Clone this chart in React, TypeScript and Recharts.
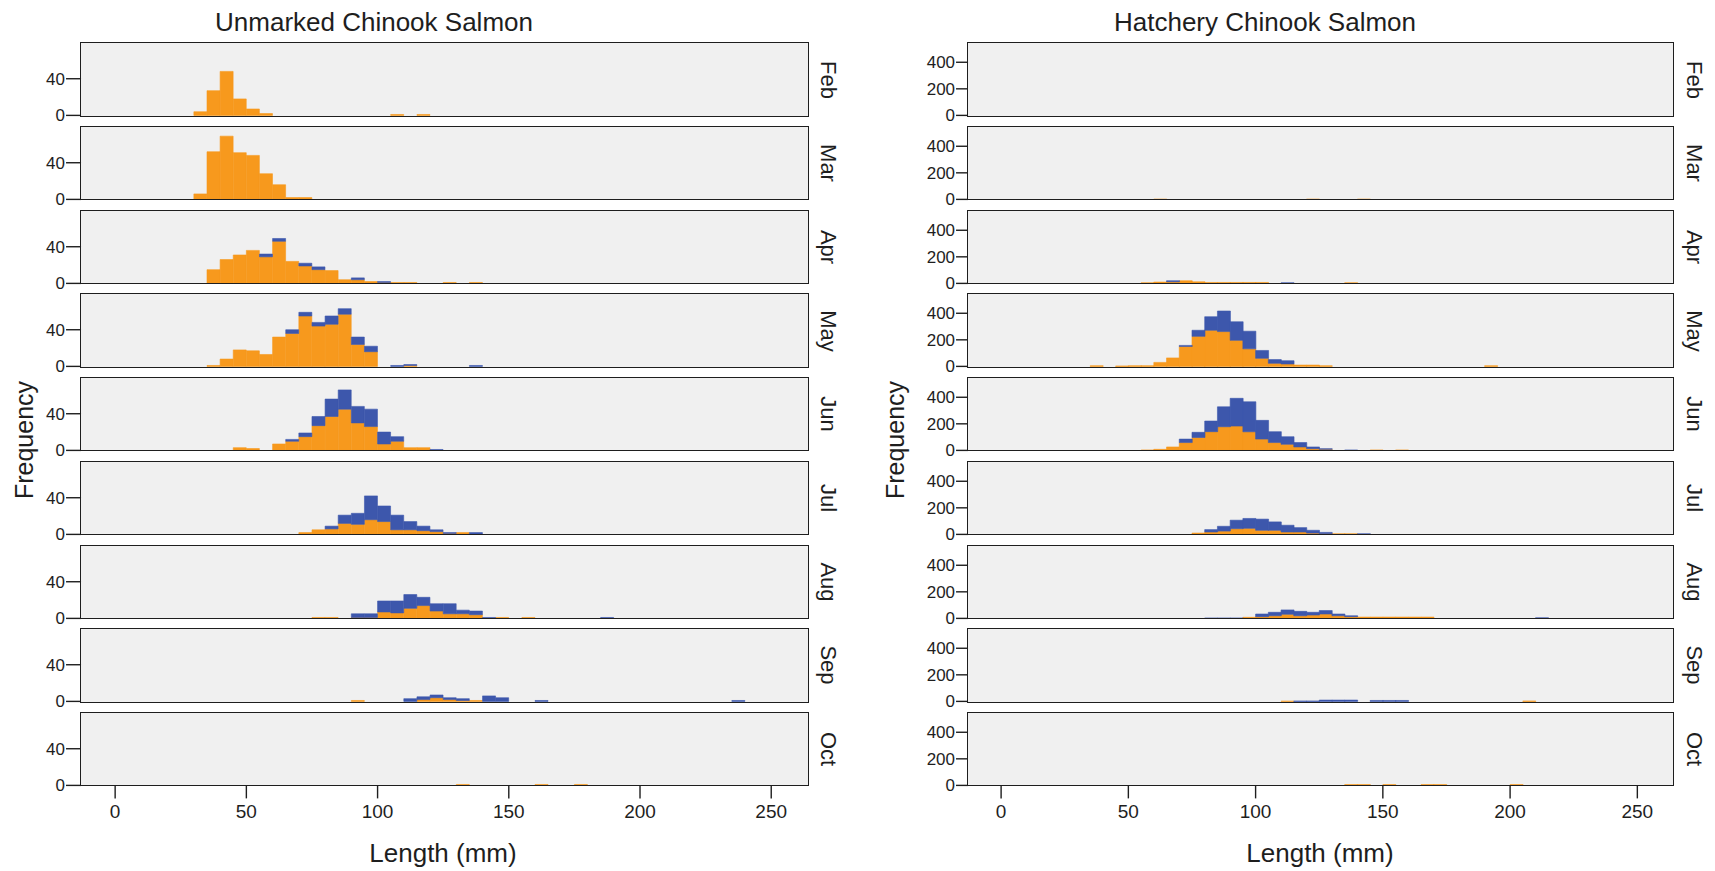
import { BarChart, Bar, XAxis, YAxis } from "recharts";

// ==================== DATA ====================

const MONTHS = ["Feb", "Mar", "Apr", "May", "Jun", "Jul", "Aug", "Sep", "Oct"];

// 5 mm length bins (lower edge of each bin)
const BIN_STARTS = [
  30, 35, 40, 45, 50, 55, 60, 65, 70, 75, 80, 85, 90, 95, 100, 105, 110, 115,
  120, 125, 130, 135, 140, 145, 150, 155, 160, 165, 170, 175, 180, 185, 190,
  195, 200, 205, 210, 215, 220, 225, 230, 235,
];

const LENGTH_TICKS = [0, 50, 100, 150, 200, 250];
const UNMARKED_TICKS = [0, 40];
const HATCHERY_TICKS = [0, 200, 400];

type Counts = Record<number, number>;

// Unmarked Chinook: orange (bottom of stack) per month, bin start -> count
const unmarkedOrange: Counts[] = [
  { 30: 4, 35: 27, 40: 48, 45: 18, 50: 7, 55: 2, 105: 1, 115: 1 },
  { 30: 6, 35: 52, 40: 69, 45: 51, 50: 48, 55: 28, 60: 16, 65: 2, 70: 2 },
  { 35: 15, 40: 26, 45: 31, 50: 36, 55: 29, 60: 46, 65: 24, 70: 19, 75: 15, 80: 14, 85: 4, 90: 4, 95: 2, 100: 1, 105: 1, 110: 1, 125: 1, 135: 1 },
  { 35: 1, 40: 8, 45: 18, 50: 17, 55: 13, 60: 32, 65: 36, 70: 55, 75: 44, 80: 46, 85: 57, 90: 24, 95: 16, 110: 1 },
  { 45: 3, 50: 2, 60: 7, 65: 10, 70: 15, 75: 27, 80: 37, 85: 45, 90: 30, 95: 26, 100: 7, 105: 10, 110: 3, 115: 3 },
  { 70: 2, 75: 5, 80: 6, 85: 12, 90: 11, 95: 16, 100: 14, 105: 5, 110: 5, 115: 4, 120: 3, 125: 1, 130: 2 },
  { 75: 1, 80: 1, 90: 1, 95: 1, 100: 7, 105: 6, 110: 11, 115: 14, 120: 8, 125: 5, 130: 5, 135: 4, 145: 1, 155: 1 },
  { 90: 1, 115: 2, 120: 4, 125: 2, 130: 1, 135: 1 },
  { 130: 1, 160: 1, 175: 1 },
];

// Unmarked Chinook: blue (top of stack)
const unmarkedBlue: Counts[] = [
  {},
  {},
  { 55: 3, 60: 3, 70: 3, 75: 3, 90: 2, 100: 1 },
  { 65: 4, 70: 4, 75: 4, 80: 9, 85: 6, 90: 8, 95: 6, 105: 1, 110: 1, 135: 1 },
  { 65: 2, 70: 4, 75: 10, 80: 19, 85: 21, 90: 18, 95: 19, 100: 13, 105: 5, 120: 1 },
  { 80: 3, 85: 9, 90: 12, 95: 26, 100: 17, 105: 16, 110: 9, 115: 5, 120: 2, 125: 1, 135: 2 },
  { 90: 4, 95: 4, 100: 12, 105: 13, 110: 15, 115: 9, 120: 8, 125: 11, 130: 4, 135: 4, 140: 1, 185: 1 },
  { 110: 3, 115: 3, 120: 3, 125: 2, 130: 2, 140: 6, 145: 4, 160: 1, 235: 1 },
  {},
];

// Hatchery Chinook: orange
const hatcheryOrange: Counts[] = [
  {},
  { 60: 2, 120: 2, 140: 2 },
  { 55: 5, 60: 10, 65: 12, 70: 20, 75: 12, 80: 7, 85: 7, 90: 7, 95: 7, 100: 7, 135: 5 },
  { 35: 5, 45: 3, 50: 5, 55: 5, 60: 30, 65: 64, 70: 150, 75: 226, 80: 272, 85: 262, 90: 196, 95: 132, 100: 61, 105: 23, 110: 18, 115: 10, 120: 10, 125: 5, 190: 5 },
  { 55: 3, 60: 8, 65: 26, 70: 59, 75: 97, 80: 141, 85: 178, 90: 183, 95: 140, 100: 85, 105: 59, 110: 46, 115: 26, 120: 13, 125: 8, 145: 3, 155: 3 },
  { 75: 10, 80: 18, 85: 25, 90: 43, 95: 46, 100: 31, 105: 31, 110: 18, 115: 18, 120: 10, 125: 5, 130: 5, 135: 5 },
  { 95: 8, 100: 13, 105: 20, 110: 31, 115: 20, 120: 25, 125: 33, 130: 20, 135: 13, 140: 10, 145: 10, 150: 10, 155: 10, 160: 10, 165: 10 },
  { 110: 2, 205: 3 },
  { 135: 6, 140: 6, 150: 6, 165: 6, 170: 6, 200: 6 },
];

// Hatchery Chinook: blue
const hatcheryBlue: Counts[] = [
  {},
  {},
  { 65: 8, 110: 5 },
  { 70: 8, 75: 46, 80: 102, 85: 155, 90: 140, 95: 133, 100: 59, 105: 28, 110: 25 },
  { 70: 26, 75: 39, 80: 80, 85: 150, 90: 209, 95: 226, 100: 141, 105: 82, 110: 57, 115: 33, 120: 13, 125: 5, 135: 3 },
  { 80: 18, 85: 36, 90: 64, 95: 74, 100: 84, 105: 63, 110: 51, 115: 33, 120: 21, 125: 10, 140: 5 },
  { 80: 3, 85: 3, 90: 3, 100: 20, 105: 26, 110: 33, 115: 33, 120: 21, 125: 26, 130: 13, 135: 7, 210: 5 },
  { 115: 3, 120: 3, 125: 10, 130: 10, 135: 10, 145: 7, 150: 7, 155: 7 },
  {},
];

// ==================== STYLE ====================

const ORANGE = "#F7991D";
const BLUE = "#3D57AC";
const PANEL_BG = "#F0F0F0";
const INK = "#1e1e1e";
const FONT = '"Liberation Sans", Arial, sans-serif';

const X_DOMAIN: [number, number] = [-13, 264];
const PANEL_TOP = 43.3;
const PANEL_PITCH = 83.7;
const PANEL_H = 72.4;
const AXIS_W = 70;
const BOTTOM_PAD = 12;

// ==================== PANEL ====================

interface PanelProps {
  orange: Counts;
  blue: Counts;
  top: number;
  plotLeft: number;
  plotRight: number;
  yMax: number;
  yTicks: number[];
  tickLen: number;
  showX: boolean;
}

const Panel = ({
  orange,
  blue,
  top,
  plotLeft,
  plotRight,
  yMax,
  yTicks,
  tickLen,
  showX,
}: PanelProps) => {
  const data = BIN_STARTS.map((s) => ({
    mid: s + 2.5,
    orange: orange[s] ?? 0,
    blue: blue[s] ?? 0,
  }));
  const plotW = plotRight - plotLeft;
  const width = plotW + AXIS_W + 2;
  const height = PANEL_H + 2 + (showX ? 46 : BOTTOM_PAD);

  return (
    <div style={{ position: "absolute", left: plotLeft - AXIS_W, top: top - 2 }}>
      {/* panel background */}
      <div
        style={{
          position: "absolute",
          left: AXIS_W,
          top: 2,
          width: plotW,
          height: PANEL_H,
          background: PANEL_BG,
        }}
      />
      <div style={{ position: "relative" }}>
        <BarChart
          width={width}
          height={height}
          data={data}
          margin={{ top: 2, right: 2, bottom: showX ? 0 : BOTTOM_PAD, left: 0 }}
          barCategoryGap={0}
          barGap={0}
        >
          <XAxis
            dataKey="mid"
            type="number"
            domain={X_DOMAIN}
            ticks={LENGTH_TICKS}
            hide={!showX}
            height={46}
            tickSize={13}
            tickMargin={6}
            axisLine={false}
            tickLine={{ stroke: INK, strokeWidth: 1.4 }}
            tick={{ fill: INK, fontSize: 19, fontFamily: FONT }}
            allowDataOverflow
          />
          <YAxis
            type="number"
            domain={[0, yMax]}
            ticks={yTicks}
            interval={0}
            width={AXIS_W}
            tickSize={tickLen}
            tickMargin={1}
            axisLine={false}
            tickLine={{ stroke: INK, strokeWidth: 1.4 }}
            tick={{ fill: INK, fontSize: 17, fontFamily: FONT }}
          />
          <Bar
            dataKey="orange"
            stackId="s"
            fill={ORANGE}
            stroke={ORANGE}
            strokeWidth={0.6}
            isAnimationActive={false}
          />
          <Bar
            dataKey="blue"
            stackId="s"
            fill={BLUE}
            stroke={BLUE}
            strokeWidth={0.6}
            isAnimationActive={false}
          />
        </BarChart>
      </div>
      {/* panel frame */}
      <div
        style={{
          position: "absolute",
          left: AXIS_W - 1,
          top: 1,
          width: plotW,
          height: PANEL_H,
          border: `1.6px solid ${INK}`,
          boxSizing: "content-box",
          pointerEvents: "none",
        }}
      />
    </div>
  );
};

// ==================== LABELS ====================

const Label = ({
  x,
  y,
  text,
  size,
  rotate = 0,
}: {
  x: number;
  y: number;
  text: string;
  size: number;
  rotate?: number;
}) => (
  <div
    style={{
      position: "absolute",
      left: x,
      top: y,
      transform: `translate(-50%, -50%) rotate(${rotate}deg)`,
      fontFamily: FONT,
      fontSize: size,
      color: INK,
      whiteSpace: "nowrap",
      lineHeight: 1,
    }}
  >
    {text}
  </div>
);

// ==================== APP ====================

const COLUMNS = [
  {
    title: "Unmarked Chinook Salmon",
    titleX: 374,
    plotLeft: 81,
    plotRight: 808,
    yMax: 79,
    yTicks: UNMARKED_TICKS,
    tickLen: 15,
    orange: unmarkedOrange,
    blue: unmarkedBlue,
    monthX: 828,
    freqX: 24,
    lengthX: 443,
  },
  {
    title: "Hatchery Chinook Salmon",
    titleX: 1265,
    plotLeft: 968,
    plotRight: 1673,
    yMax: 545,
    yTicks: HATCHERY_TICKS,
    tickLen: 12,
    orange: hatcheryOrange,
    blue: hatcheryBlue,
    monthX: 1694,
    freqX: 895,
    lengthX: 1320,
  },
];

export default function App() {
  return (
    <div
      style={{
        position: "absolute",
        left: 0,
        top: 0,
        width: 1715,
        height: 871,
        background: "#ffffff",
        overflow: "hidden",
      }}
    >
      {COLUMNS.map((col) => (
        <div key={col.title}>
          <Label x={col.titleX} y={22} text={col.title} size={26} />
          {MONTHS.map((m, i) => (
            <Panel
              key={m}
              orange={col.orange[i]}
              blue={col.blue[i]}
              top={PANEL_TOP + i * PANEL_PITCH}
              plotLeft={col.plotLeft}
              plotRight={col.plotRight}
              yMax={col.yMax}
              yTicks={col.yTicks}
              tickLen={col.tickLen}
              showX={i === MONTHS.length - 1}
            />
          ))}
          {MONTHS.map((m, i) => (
            <Label
              key={`lbl-${m}`}
              x={col.monthX}
              y={PANEL_TOP + i * PANEL_PITCH + PANEL_H / 2}
              text={m}
              size={22}
              rotate={90}
            />
          ))}
          <Label x={col.freqX} y={440} text="Frequency" size={25} rotate={-90} />
          <Label x={col.lengthX} y={853} text="Length (mm)" size={26} />
        </div>
      ))}
    </div>
  );
}
